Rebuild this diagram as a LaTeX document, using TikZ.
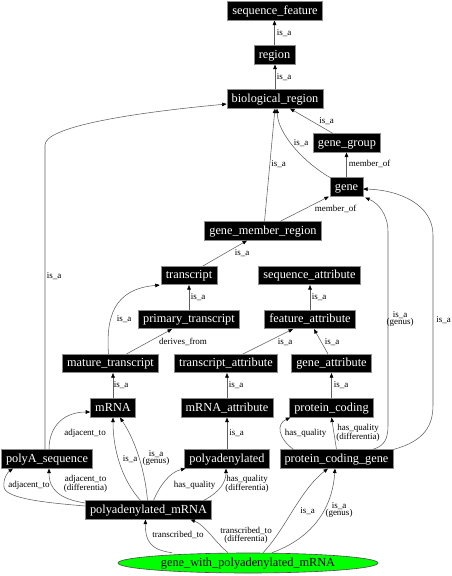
\documentclass[tikz,border=0pt]{standalone}
\usepackage{fontspec}
\setmainfont{Liberation Serif}
\newfontfamily\diagfont{Liberation Serif}
\usetikzlibrary{arrows.meta,shapes.geometric}
\definecolor{nodegreen}{RGB}{0,255,0}
\definecolor{edgegray}{RGB}{95,95,95}
\definecolor{boxedge}{RGB}{140,140,140}
\begin{document}
\begin{tikzpicture}[x=1pt,y=-1pt,
  box/.style={draw=boxedge, fill=black, text=white, font=\diagfont\fontsize{12.3}{14}\selectfont,
    inner xsep=4.7pt, inner ysep=0pt, minimum height=18.5pt, text height=8.6pt, text depth=2.6pt, line width=0.6pt},
  edge/.style={draw=edgegray, line width=0.55pt, -{Triangle[length=4.5pt,width=3.6pt,color=black]}},
  lab/.style={font=\diagfont\fontsize{9}{7.5}\selectfont, inner sep=0pt, align=center, text=black}]
\useasboundingbox (0,0) rectangle (452,576);
% nodes
\node[box] (sequence_feature) at (275,11) {sequence\_feature};
\node[box] (region) at (274.5,55) {region};
\node[box] (biological_region) at (275,99) {biological\_region};
\node[box] (gene_group) at (347,143) {gene\_group};
\node[box] (gene) at (346.5,187) {gene};
\node[box] (gene_member_region) at (263,231) {gene\_member\_region};
\node[box] (transcript) at (189,275.5) {transcript};
\node[box] (sequence_attribute) at (309.5,275.5) {sequence\_attribute};
\node[box] (primary_transcript) at (189,319.5) {primary\_transcript};
\node[box] (feature_attribute) at (310,319.5) {feature\_attribute};
\node[box] (mature_transcript) at (110.5,363.5) {mature\_transcript};
\node[box] (transcript_attribute) at (226,363.5) {transcript\_attribute};
\node[box] (gene_attribute) at (331.5,363.5) {gene\_attribute};
\node[box] (mRNA) at (113,408) {mRNA};
\node[box] (mRNA_attribute) at (227,408) {mRNA\_attribute};
\node[box] (protein_coding) at (331.5,408) {protein\_coding};
\node[box] (polyA_sequence) at (47,459) {polyA\_sequence};
\node[box] (polyadenylated) at (227,459) {polyadenylated};
\node[box] (protein_coding_gene) at (336.5,459) {protein\_coding\_gene};
\node[box] (polyadenylated_mRNA) at (148.5,510) {polyadenylated\_mRNA};
\node[ellipse, draw=black!70, fill=nodegreen, minimum width=260pt, minimum height=20pt, inner sep=0pt,
  font=\diagfont\fontsize{12.3}{14}\selectfont, text height=8.6pt, text depth=2.6pt, line width=0.6pt] (gwp) at (248,563) {gene\_with\_polyadenylated\_mRNA};
% edges
\draw[edge] (region.north) -- (region.north |- sequence_feature.south) node[lab] (l1) at (284,33) {is\_a};
\draw[edge] (biological_region.north) -- (biological_region.north |- region.south) node[lab] (l2) at (284,77) {is\_a};
\draw[edge] ([xshift=-14pt]gene_group.north) -- ([xshift=15pt]biological_region.south) node[lab] (l3) at (326.5,121) {is\_a};
\draw[edge] (gene.north west) .. controls (305,163) and (278,135) .. ([xshift=2pt]biological_region.south) node[lab] (l4) at (301,143) {is\_a};
\draw[edge] (gene.north) -- (gene.north |- gene_group.south) node[lab] (l5) at (369.5,164) {member\_of};
\draw[edge] ([xshift=1.5pt]gene_member_region.north) -- (biological_region.south) node[lab] (l6) at (278.5,164.5) {is\_a};
\draw[edge] ([xshift=17pt]gene_member_region.north) -- ([xshift=-1pt]gene.south west) node[lab] (l7) at (335.5,209) {member\_of};
\draw[edge] ([xshift=14pt]transcript.north) -- ([xshift=-16pt]gene_member_region.south) node[lab] (l8) at (242,253) {is\_a};
\draw[edge] (primary_transcript.north) -- (transcript.south) node[lab] (l9) at (198,297) {is\_a};
\draw[edge] ([xshift=-2pt]mature_transcript.north) .. controls (106,318) and (113,289) .. ([xshift=-1pt]transcript.south west) node[lab] (l10) at (124,319) {is\_a};
\draw[edge] ([xshift=16pt]mature_transcript.north) -- ([xshift=-17pt]primary_transcript.south) node[lab] (l11) at (183,342) {derives\_from};
\draw[edge] (feature_attribute.north) -- (feature_attribute.north |- sequence_attribute.south) node[lab] (l12) at (319,297) {is\_a};
\draw[edge] ([xshift=17pt]transcript_attribute.north) -- ([xshift=-17pt]feature_attribute.south) node[lab] (l13) at (285,342) {is\_a};
\draw[edge] ([xshift=-3.5pt]gene_attribute.north) -- ([xshift=4pt]feature_attribute.south) node[lab] (l14) at (332,342) {is\_a};
\draw[edge] (mRNA.north) -- (mRNA.north |- mature_transcript.south) node[lab] (l15) at (121,385) {is\_a};
\draw[edge] (mRNA_attribute.north) -- (mRNA_attribute.north |- transcript_attribute.south) node[lab] (l16) at (236,385) {is\_a};
\draw[edge] (protein_coding.north) -- (protein_coding.north |- gene_attribute.south) node[lab] (l17) at (341,385) {is\_a};
\draw[edge] ([xshift=-2pt]polyA_sequence.north) -- (45,145) .. controls (45,128) and (120,114) .. ([yshift=-5pt]biological_region.west) node[lab] (l18) at (54,276) {is\_a};
\draw[edge] ([xshift=2pt]polyA_sequence.north) .. controls (49,425) and (65,412) .. ([yshift=-4pt]mRNA.west) node[lab] (l19) at (85,433) {adjacent\_to};
\draw[edge] (polyadenylated.north) -- (polyadenylated.north |- mRNA_attribute.south) node[lab] (l20) at (236.5,433) {is\_a};
\draw[edge] ([xshift=-43pt]protein_coding_gene.north) .. controls (278,438) and (276,424) .. ([xshift=1pt]protein_coding.south west) node[lab] (l21) at (305.5,433) {has\_quality};
\draw[edge] (protein_coding_gene.north) -- (protein_coding.south) node[lab] (l22) at (358,433) {has\_quality\\(differentia)};
\draw[edge] ([xshift=36pt]protein_coding_gene.north) .. controls (384,446) and (388,440) .. (388,425) -- (388,232) .. controls (388,214) and (378,203) .. ([xshift=2pt,yshift=-1pt]gene.south east) node[lab] (l23) at (400,319) {is\_a\\(genus)};
\draw[edge] (protein_coding_gene.north east) .. controls (425,441) and (433,425) .. (433,405) -- (433,235) .. controls (433,205) and (400,190) .. ([yshift=-2pt]gene.east) node[lab] (l24) at (443.5,320) {is\_a};
\draw[edge] ([yshift=4pt]polyadenylated_mRNA.west) .. controls (50,503) and (5,499) .. (4,487) .. controls (3,478) and (8,472) .. ([xshift=12pt]polyA_sequence.south west) node[lab] (l25) at (29,485) {adjacent\_to};
\draw[edge] ([yshift=7pt]polyadenylated_mRNA.west) .. controls (60,499) and (49,490) .. ([xshift=2pt]polyA_sequence.south) node[lab] (l26) at (85.5,484) {adjacent\_to\\(differentia)};
\draw[edge] ([xshift=-8pt]polyadenylated_mRNA.north) .. controls (122,480) and (113,450) .. (mRNA.south) node[lab] (l27) at (130,459) {is\_a};
\draw[edge] ([xshift=-1pt]polyadenylated_mRNA.north) .. controls (145,470) and (135,440) .. ([xshift=7pt]mRNA.south) node[lab] (l28) at (156,458) {is\_a\\(genus)};
\draw[edge] ([xshift=5pt]polyadenylated_mRNA.north) .. controls (160,485) and (170,472) .. ([xshift=1pt]polyadenylated.south west) node[lab] (l29) at (194.5,485) {has\_quality};
\draw[edge] ([xshift=55pt]polyadenylated_mRNA.north) .. controls (220,492) and (226,482) .. ([xshift=-1pt]polyadenylated.south) node[lab] (l30) at (247,484) {has\_quality\\(differentia)};
\draw[edge] ([xshift=-76pt]gwp.north) .. controls (150,550) and (145,540) .. ([xshift=-3pt]polyadenylated_mRNA.south) node[lab] (l31) at (178,535) {transcribed\_to};
\draw[edge] ([xshift=-20pt]gwp.north) .. controls (215,542) and (205,525) .. ([xshift=42pt]polyadenylated_mRNA.south) node[lab] (l32) at (246,535.5) {transcribed\_to\\(differentia)};
\draw[edge] ([xshift=15pt]gwp.north) .. controls (285,530) and (300,490) .. ([xshift=-8.5pt]protein_coding_gene.south) node[lab] (l33) at (307.5,511) {is\_a};
\draw[edge] ([xshift=24pt]gwp.north) .. controls (320,535) and (333,500) .. ([xshift=-1.5pt]protein_coding_gene.south) node[lab] (l34) at (339,510) {is\_a\\(genus)};
\end{tikzpicture}
\end{document}
